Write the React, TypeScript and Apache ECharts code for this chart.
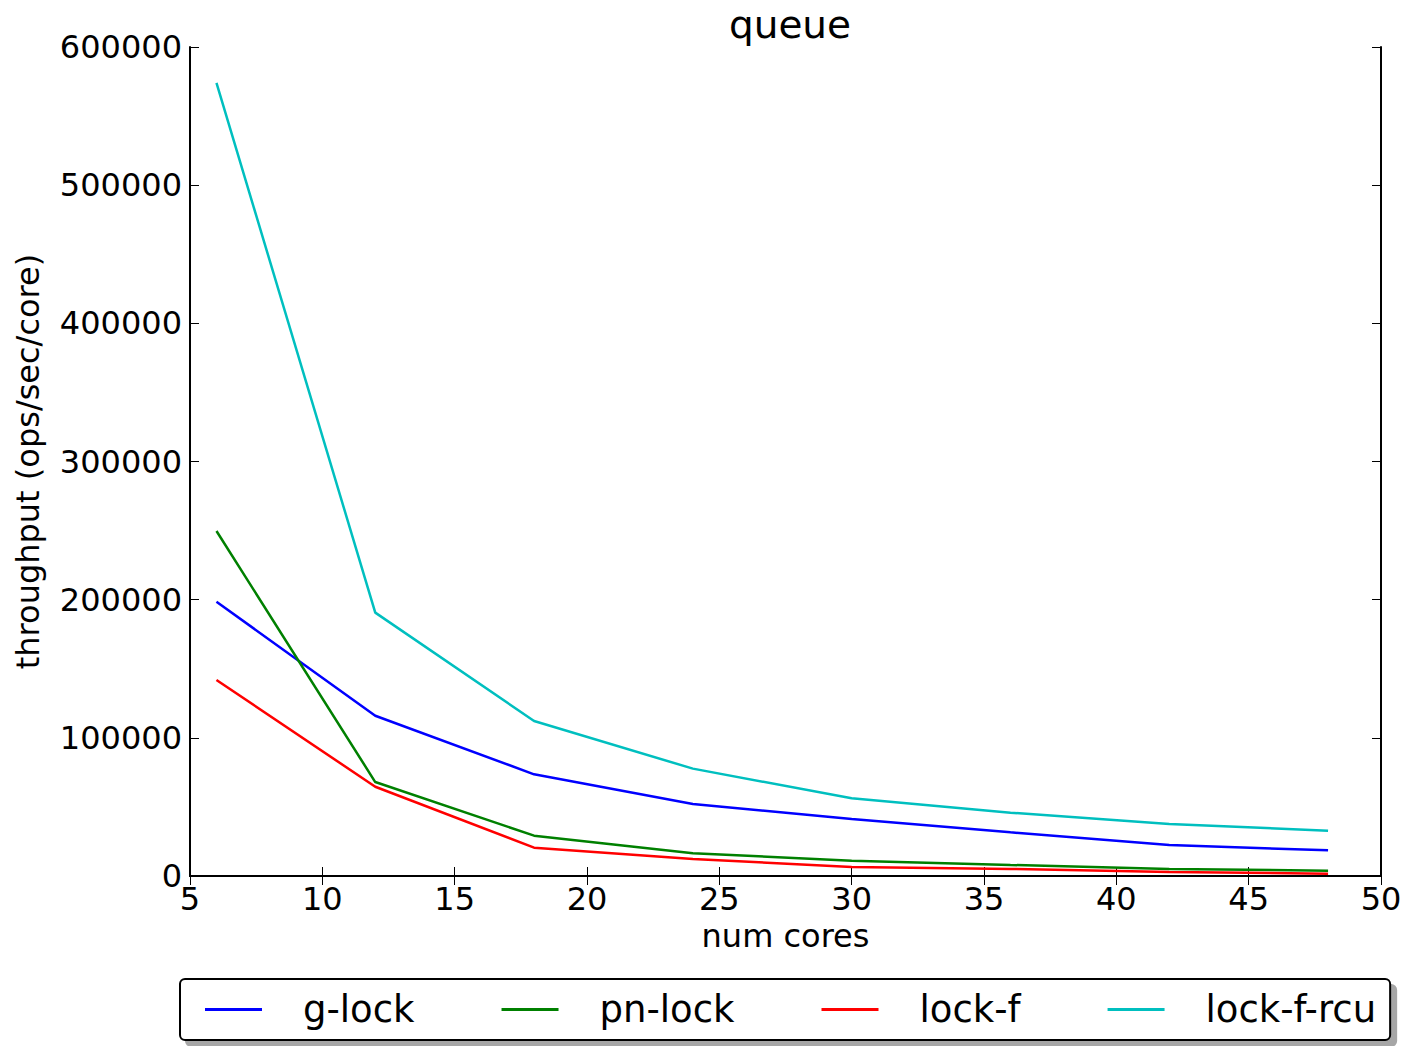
import React, { useEffect, useRef } from "react";
import * as echarts from "echarts";

const cores = [6, 12, 18, 24, 30, 36, 42, 48];
const gLock = [198500, 116000, 73600, 52100, 41300, 31600, 22400, 18600];
const pnLock = [249700, 68000, 29200, 16400, 11100, 8000, 5100, 3800];
const lockF = [141900, 64600, 20500, 12300, 6500, 5100, 2900, 1700];
const lockFRcu = [574000, 190600, 112200, 77700, 56200, 45800, 37600, 32800];

const seriesNames = ["g-lock", "pn-lock", "lock-f", "lock-f-rcu"];
const seriesColors = ["#0000ff", "#008000", "#ff0000", "#00bfbf"];
const seriesData = [gLock, pnLock, lockF, lockFRcu];

const FONT = "DejaVu Sans";

export default function App() {
  const ref = useRef<HTMLDivElement>(null);
  useEffect(() => {
    if (!ref.current) return;
    const chart = echarts.init(ref.current, undefined, { renderer: "svg" });
    const axisCommon = {
      axisLine: { show: true, lineStyle: { color: "#000", width: 2 } },
      axisTick: { show: true, inside: true, length: 9, lineStyle: { color: "#000", width: 1 } },
      splitLine: { show: false },
    };
    chart.setOption({
      animation: false,
      backgroundColor: "#fff",
      title: {
        text: "queue",
        left: 785,
        textAlign: "center",
        top: 0,
        textStyle: { fontFamily: FONT, fontSize: 39, fontWeight: "normal", color: "#000" },
      },
      grid: { left: 190, right: 29, top: 47, bottom: 170, containLabel: false },
      legend: {
        data: seriesNames,
        left: 180,
        top: 979,
        orient: "horizontal",
        icon: "rect",
        itemWidth: 57,
        itemHeight: 3,
        itemGap: 87,
        padding: [12, 14, 12, 25],
        backgroundColor: "#fff",
        borderColor: "#000",
        borderWidth: 2,
        borderRadius: 5,
        shadowColor: "rgba(0,0,0,0.35)",
        shadowOffsetX: 6,
        shadowOffsetY: 6,
        shadowBlur: 0,
        textStyle: { fontFamily: FONT, fontSize: 37, color: "#000", padding: [0, 0, 0, 36] },
      },
      xAxis: [
        {
          type: "value",
          min: 5,
          max: 50,
          interval: 5,
          position: "bottom",
          name: "num cores",
          nameLocation: "middle",
          nameGap: 39,
          nameTextStyle: { fontFamily: FONT, fontSize: 32, color: "#000" },
          axisLabel: { fontFamily: FONT, fontSize: 32, color: "#000", margin: 7 },
          ...axisCommon,
        },
        {
          type: "value",
          min: 5,
          max: 50,
          interval: 5,
          position: "top",
          axisLabel: { show: false },
          ...axisCommon,
        },
      ],
      yAxis: [
        {
          type: "value",
          min: 0,
          max: 600000,
          interval: 100000,
          position: "left",
          name: "throughput (ops/sec/core)",
          nameLocation: "middle",
          nameGap: 146,
          nameTextStyle: { fontFamily: FONT, fontSize: 32, color: "#000" },
          axisLabel: {
            fontFamily: FONT,
            fontSize: 32,
            color: "#000",
            margin: 8,
            formatter: (v: number) => String(v),
          },
          ...axisCommon,
        },
        {
          type: "value",
          min: 0,
          max: 600000,
          interval: 100000,
          position: "right",
          axisLabel: { show: false },
          ...axisCommon,
        },
      ],
      series: seriesNames.map((name, i) => ({
        name,
        type: "line",
        data: cores.map((c, j) => [c, seriesData[i][j]]),
        showSymbol: false,
        symbol: "none",
        lineStyle: { color: seriesColors[i], width: 2.5 },
        itemStyle: { color: seriesColors[i] },
      })),
    });
    return () => chart.dispose();
  }, []);
  return (
    <div
      ref={ref}
      style={{ position: "absolute", left: 0, top: 0, width: 1410, height: 1046 }}
    />
  );
}
